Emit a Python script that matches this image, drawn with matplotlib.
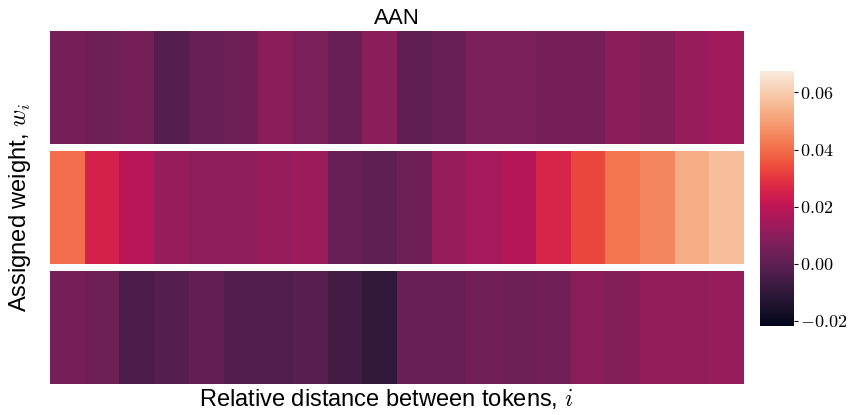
import numpy as np
import matplotlib
matplotlib.use('Agg')
import matplotlib.pyplot as plt
import seaborn as sns

plt.rcParams['font.family'] = ['Liberation Sans', 'DejaVu Sans']
plt.rcParams['mathtext.fontset'] = 'cm'

# learned positional weights w_i for each of the three layers
layer_1 = [0.005, 0.003, 0.005, -0.002, 0.002, 0.003, 0.009, 0.006, 0.002, 0.009,
           0.0005, 0.002, 0.006, 0.006, 0.005, 0.005, 0.009, 0.008, 0.012, 0.014]
layer_2 = [0.040, 0.025, 0.019, 0.012, 0.010, 0.010, 0.012, 0.013, 0.002, 0.000,
           0.003, 0.012, 0.015, 0.018, 0.026, 0.033, 0.042, 0.045, 0.053, 0.057]
layer_3 = [0.005, 0.003, -0.004, -0.002, 0.001, -0.003, -0.003, -0.001, -0.006, -0.010,
           0.002, 0.002, 0.004, 0.003, 0.004, 0.009, 0.008, 0.011, 0.011, 0.012]
layers = [layer_1, layer_2, layer_3]

vmin, vmax = -0.0218, 0.0675
cbar_ticks = [-0.02, 0.0, 0.02, 0.04, 0.06]

W, H = 851, 415
fig = plt.figure(figsize=(W / 100, H / 100), dpi=100)

left, right = 50, 744
row_tops = [31, 151, 271]
row_h = 113

cax = fig.add_axes([760 / W, 1 - 326 / H, 34 / W, 255 / H])

for i, (top, w) in enumerate(zip(row_tops, layers)):
    ax = fig.add_axes([left / W, 1 - (top + row_h) / H, (right - left) / W, row_h / H])
    sns.heatmap(np.array([w]), ax=ax, cmap='rocket', vmin=vmin, vmax=vmax,
                cbar=(i == 0), cbar_ax=cax if i == 0 else None,
                xticklabels=False, yticklabels=False)
    ax.tick_params(left=False, bottom=False)
    if i == 0:
        ax.set_title('AAN', fontsize=16, pad=5)

cax.set_yticks(cbar_ticks)
cax.set_yticklabels(['$%.2f$' % t if t >= 0 else '$-%.2f$' % -t for t in cbar_ticks],
                    fontsize=13)
cax.tick_params(length=3, width=0.8, pad=1)

fig.text(20 / W, 0.5, 'Assigned weight, $w_i$', rotation=90, fontsize=17,
         ha='center', va='center')
fig.text(386 / W, 1 - 399 / H, 'Relative distance between tokens, $i$',
         fontsize=17, ha='center', va='center')

fig.savefig('out.png', dpi=100)
